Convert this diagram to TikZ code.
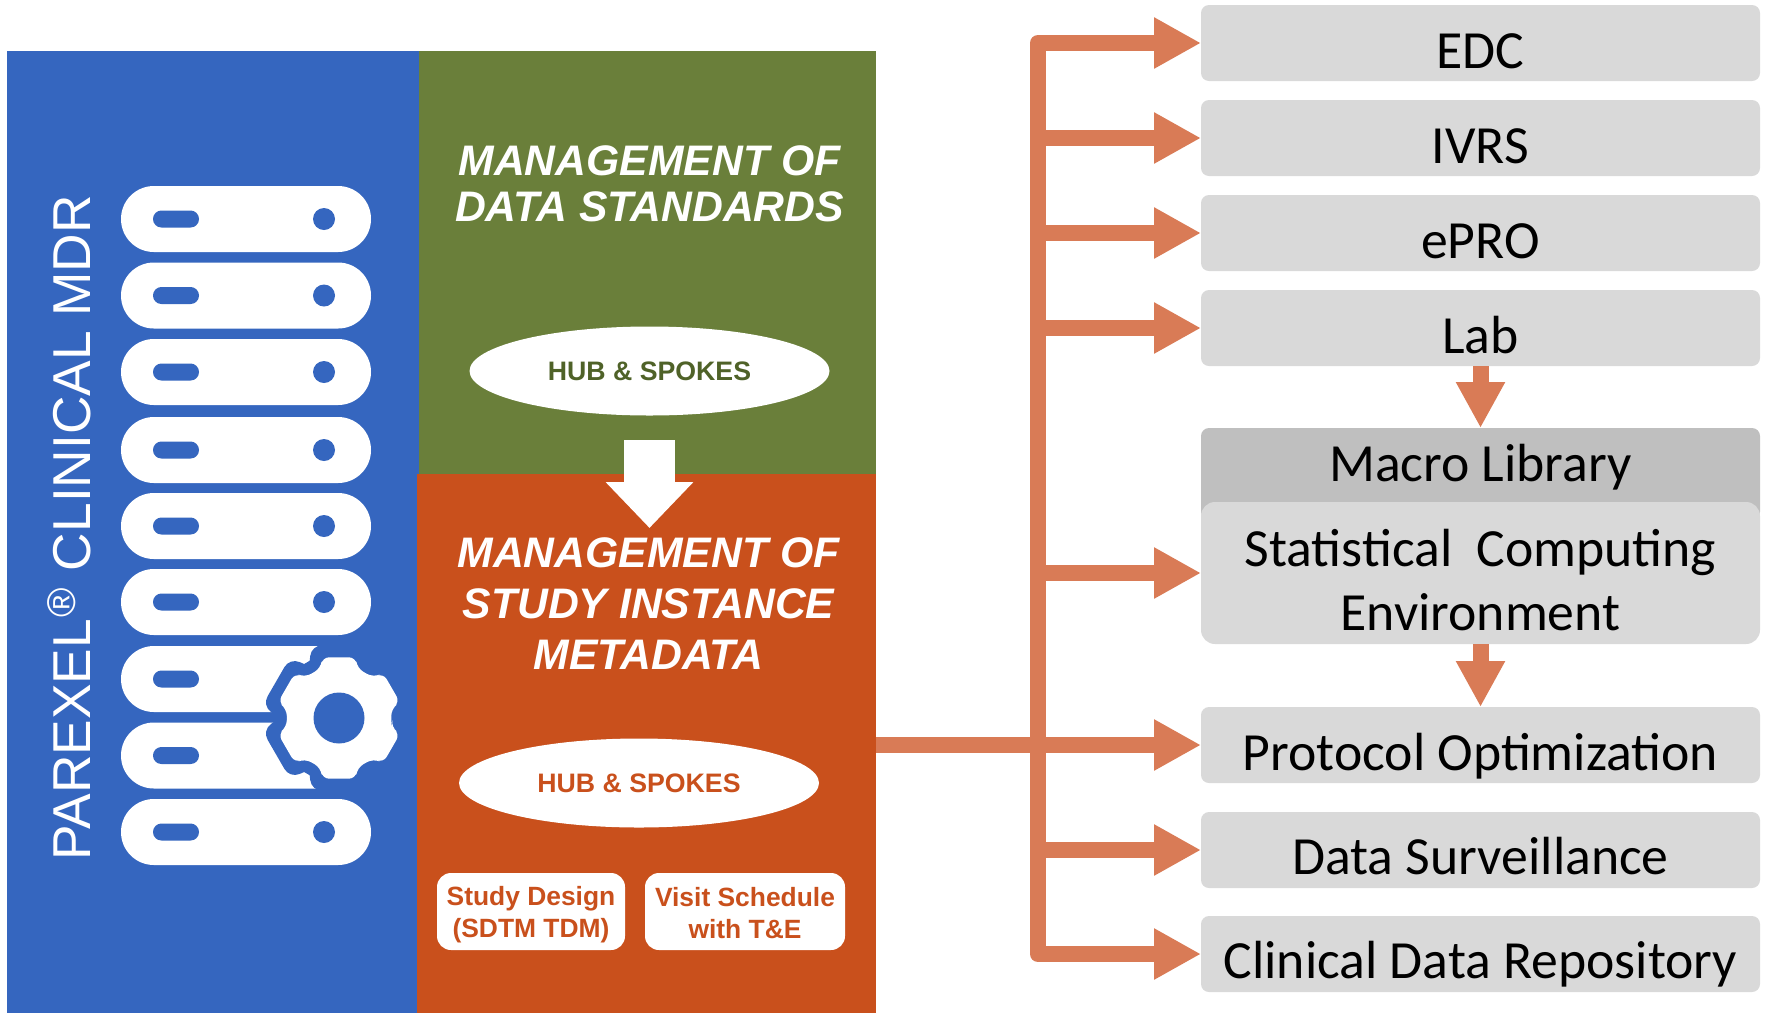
\documentclass[tikz,border=0pt]{standalone}
\usepackage{fontspec}
\setmainfont{Liberation Sans}
\newfontfamily\calib{Carlito}
\usetikzlibrary{arrows.meta,shapes.geometric}
\definecolor{cblue}{HTML}{3566BF}
\definecolor{cgreen}{HTML}{6A7F3A}
\definecolor{cgreentxt}{HTML}{4F6228}
\definecolor{corange}{HTML}{C9501C}
\definecolor{cflow}{HTML}{D97B56}
\definecolor{cbox}{HTML}{D9D9D9}
\definecolor{cmacro}{HTML}{BFBFBF}
\newcommand{\gearoutline}{(8:53)
    foreach \a in {30,90,150,210,270,330}{ -- (\a-20:53) -- (\a-15.5:63) -- (\a+15.5:63) -- (\a+20:53) } -- cycle}
\tikzset{
  x=1pt,y=-1pt,
  panel/.style={rectangle,inner sep=0pt,outer sep=0pt},
  title/.style={align=center,text=white,inner sep=0pt,font=\fontsize{42.7}{46.5}\selectfont\bfseries\itshape},
  hubnode/.style={ellipse,fill=white,inner sep=0pt,minimum width=360pt,minimum height=89pt,font=\fontsize{26.7}{32}\selectfont\bfseries},
  smallbox/.style={rectangle,rounded corners=14pt,fill=white,text=corange,inner sep=0pt,minimum height=77pt,align=center,font=\fontsize{26.4}{32}\selectfont\bfseries},
  graybox/.style={rectangle,rounded corners=8pt,fill=cbox,inner sep=0pt,outer sep=0pt,minimum width=559pt,text=black,font=\calib\fontsize{53.7}{63.5}\selectfont},
  flow/.style={draw=cflow,line width=16pt,-{Triangle[length=47pt,width=48pt]}},
  downflow/.style={draw=cflow,line width=16pt,-{Triangle[length=46pt,width=46pt]}},
  busline/.style={draw=cflow,line width=16pt,line join=round},
}
\begin{document}
\begin{tikzpicture}
\useasboundingbox (0,0) rectangle (1769,1013);
% panels
\node[panel,fill=cblue,minimum width=412pt,minimum height=962pt] (blue) at (213,532) {};
\node[panel,fill=cgreen,minimum width=457pt,minimum height=424pt] (green) at (647.5,263) {};
\node[panel,fill=corange,minimum width=459.5pt,minimum height=539pt] (orange) at (646.25,743.5) {};
% vertical title
\node[rotate=90,anchor=base west,text=white,inner sep=0pt,font=\fontsize{53.3}{60}\selectfont] (mdr) at (90,861) {PAREXEL\hspace{1pt}\raisebox{15pt}{\fontsize{40}{40}\selectfont ®}\hspace{2.5pt} CLINICAL MDR};
% server icon
\foreach \cy in {219,295.5,372,450,526,602,679,755.5,832}{
  \fill[white,rounded corners=32.9pt] (121,\cy-33) rectangle (371,\cy+33);
  \fill[cblue,rounded corners=8.4pt] (153,\cy-8.5) rectangle (199,\cy+8.5);
  \fill[cblue] (324,\cy) circle (11);
}
% gear
\fill[cblue] (339,640) rectangle (375,795);
\begin{scope}[shift={(339,718)}]
  \draw[cblue,fill=cblue,line width=24pt,line join=round] \gearoutline;
  \fill[white,rounded corners=7pt] \gearoutline;
  \fill[cblue] (0,0) circle (25.5);
\end{scope}
% green panel content
\node[title] (t1) at (649.5,184) {MANAGEMENT OF\\DATA STANDARDS};
\node[hubnode,text=cgreentxt] (hub1) at (649.5,371) {HUB \& SPOKES};
\coordinate (wa) at (649.5,440);
\coordinate (wb) at (649.5,528);
\draw[draw=white,line width=51.5pt,-{Triangle[length=46pt,width=85pt]}] (wa) -- (wb);
% orange panel content
\node[title] (t2) at (648.5,603.7) {MANAGEMENT OF\\[4.5pt]STUDY INSTANCE\\[4.5pt]METADATA};
\node[hubnode,text=corange] (hub2) at (639,783) {HUB \& SPOKES};
\node[smallbox,minimum width=188pt] (sd) at (531,911.5) {\rule{0pt}{26pt}Study Design\\(SDTM TDM)\rule[-5pt]{0pt}{5pt}};
\node[smallbox,minimum width=200pt] (vs) at (745,911.5) {\rule{0pt}{26pt}Visit Schedule\\with T\&E\rule[-5pt]{0pt}{5pt}};
% right column
\node[graybox,text height=63pt,text depth=13pt] (edc) at (1480.5,43) {EDC};
\node[graybox,text height=63pt,text depth=13pt] (ivrs) at (1480.5,138) {IVRS};
\node[graybox,text height=63pt,text depth=13pt] (epro) at (1480.5,233) {ePRO};
\node[graybox,text height=63pt,text depth=13pt] (lab) at (1480.5,328) {Lab};
\node[graybox,fill=cmacro,text height=53pt,text depth=39pt] (macro) at (1480.5,474) {Macro Library};
\node[graybox,rounded corners=14pt,minimum height=142pt,align=center] (sce) at (1480.5,573) {\rule{0pt}{51pt}Statistical~ Computing\\Environment};
\node[graybox,text height=63pt,text depth=13pt] (proto) at (1480.5,745) {Protocol Optimization};
\node[graybox,text height=62pt,text depth=14pt] (ds) at (1480.5,850) {Data Surveillance};
\node[graybox,text height=62pt,text depth=14pt] (cdr) at (1480.5,954) {Clinical Data Repository};
% bus
\coordinate (bt) at (1038,43);
\coordinate (bb) at (1038,954);
\draw[busline] (1060,43) -- (bt) -- (bb) -- (1060,954);
\foreach \n in {edc,ivrs,epro,lab,sce,ds,cdr}{
  \draw[flow] (bt |- \n.west) -- (\n.west);
}
\draw[flow] (orange.east |- proto.west) -- (proto.west);
\draw[downflow] (lab.south) -- (macro.north);
\draw[downflow] (sce.south) -- (proto.north);
\end{tikzpicture}
\end{document}
